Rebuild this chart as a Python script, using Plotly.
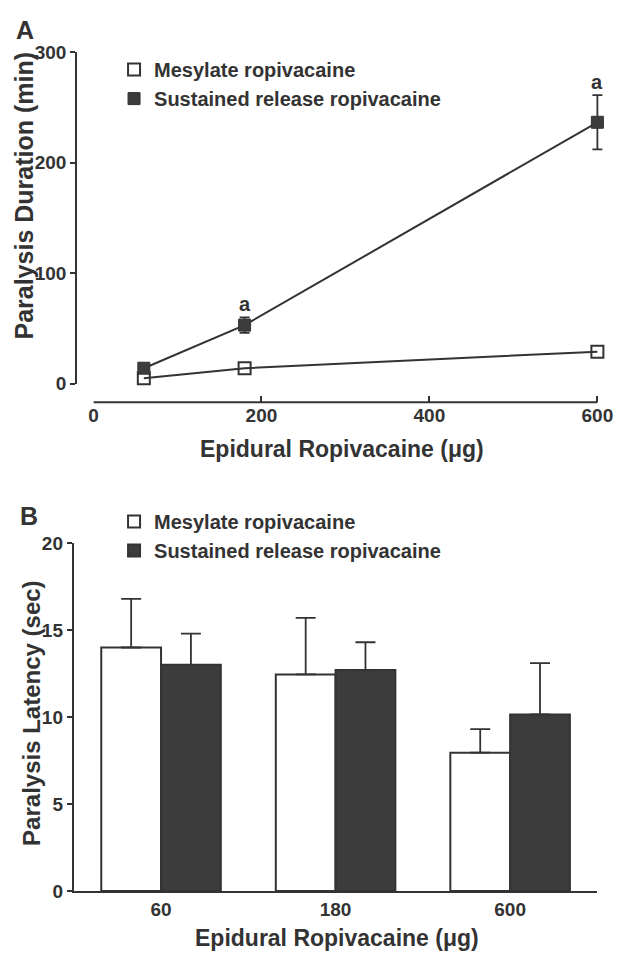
import plotly.graph_objects as go

W, H = 625, 966


def px(x):
    return x / W


def py(y):
    return 1 - y / H


# ---------------- data ----------------
doses_a = [60, 180, 600]
mesylate_a = [5, 14, 29]
sustained_a = [14, 53, 236.5]
sustained_a_err = [2, 7, 24.5]
sig_a = ["", "a", "a"]

doses_b = ["60", "180", "600"]
mesylate_b = [14.0, 12.45, 7.95]
mesylate_b_err = [2.8, 3.25, 1.35]
sustained_b = [13.0, 12.7, 10.15]
sustained_b_err = [1.8, 1.6, 2.95]

ticks_a_x = [0, 200, 400, 600]
ticks_a_y = [0, 100, 200, 300]
ticks_b_y = [0, 5, 10, 15, 20]

name_m = "Mesylate ropivacaine"
name_s = "Sustained release ropivacaine"

# ---------------- style ----------------
INK = "#333333"
DARK = "#3c3c3c"
FONT = "Liberation Sans, Arial, Helvetica, sans-serif"
TICKF = dict(family=FONT, size=19, color=INK, weight="bold")
LEGF = dict(family=FONT, size=20, color=INK, weight="bold")
TITF = dict(family=FONT, size=23, color=INK, weight="bold")

# panel A geometry (pixels): x=0 at 90, x=600 at 603; extra room so caps aren't clipped
AX0, AX600, AEXTRA = 90, 603, 10
a_xmax = 600 + AEXTRA * 600 / (AX600 - AX0)

fig = go.Figure()

# Panel A: connecting lines
for ys in (mesylate_a, sustained_a):
    fig.add_trace(go.Scatter(
        x=doses_a, y=ys, mode="lines", line=dict(color=INK, width=2),
        showlegend=False, hoverinfo="skip", xaxis="x", yaxis="y",
    ))

# Panel A: markers
fig.add_trace(go.Scatter(
    x=doses_a, y=mesylate_a, mode="markers", name=name_m,
    marker=dict(symbol="square-open", size=12, color=INK, line=dict(width=2, color=INK)),
    cliponaxis=False, legend="legend", xaxis="x", yaxis="y",
))
fig.add_trace(go.Scatter(
    x=doses_a, y=sustained_a, mode="markers", name=name_s,
    marker=dict(symbol="square", size=12, color=DARK, line=dict(width=1, color=INK)),
    error_y=dict(type="data", array=sustained_a_err, color=INK, thickness=1.8, width=5),
    cliponaxis=False, legend="legend", xaxis="x", yaxis="y",
))

for xv, yv, ev, s in zip(doses_a, sustained_a, sustained_a_err, sig_a):
    if s:
        fig.add_annotation(
            x=xv, y=yv + ev, xref="x", yref="y", text=s, showarrow=False,
            xanchor="center", yanchor="bottom", yshift=0,
            font=dict(family=FONT, size=20, color=INK, weight="bold"),
        )

# x-axis line of panel A, spanning 0..600 only
fig.add_shape(type="line", xref="x", yref="paper", x0=ticks_a_x[0], x1=ticks_a_x[-1],
              y0=py(401), y1=py(401), line=dict(color=INK, width=2), layer="above")

# Panel B: bars
fig.add_trace(go.Bar(
    x=doses_b, y=mesylate_b, name=name_m,
    marker=dict(color="white", line=dict(color=INK, width=2)),
    error_y=dict(type="data", symmetric=False, array=mesylate_b_err,
                 arrayminus=[0 for _ in mesylate_b_err], color=INK, thickness=1.8, width=10),
    legend="legend2", xaxis="x2", yaxis="y2",
))
fig.add_trace(go.Bar(
    x=doses_b, y=sustained_b, name=name_s,
    marker=dict(color=DARK, line=dict(color=INK, width=2)),
    error_y=dict(type="data", symmetric=False, array=sustained_b_err,
                 arrayminus=[0 for _ in sustained_b_err], color=INK, thickness=1.8, width=10),
    legend="legend2", xaxis="x2", yaxis="y2",
))

axis_common = dict(linecolor=INK, linewidth=2, showgrid=False, ticklabeloverflow="allow",
                   zeroline=False, tickcolor=INK, tickwidth=2, tickfont=TICKF, fixedrange=True)

fig.update_layout(
    width=W, height=H, margin=dict(l=0, r=0, t=0, b=0), autosize=False,
    paper_bgcolor="white", plot_bgcolor="white",
    barmode="group", bargap=0.315, bargroupgap=0,
    xaxis=dict(domain=[px(AX0), px(AX600 + AEXTRA)], range=[0, a_xmax], anchor="free",
               position=py(401), showline=False,
               ticks="inside", ticklen=6, tickvals=ticks_a_x, **axis_common),
    yaxis=dict(domain=[py(382), py(43)], range=[0, 300], anchor="free", position=px(72.5),
               showline=True, ticks="outside", ticklen=5, tickvals=ticks_a_y, **axis_common),
    xaxis2=dict(domain=[px(70), px(603)], type="category", range=[-0.5, 2.5], anchor="y2",
                showline=True, ticks="", categoryorder="array", categoryarray=doses_b,
                **axis_common),
    yaxis2=dict(domain=[py(900.5), py(545)], range=[0, 20], anchor="x2",
                showline=True, ticks="outside", ticklen=5, tickvals=ticks_b_y, **axis_common),
    legend=dict(x=px(111), y=py(41), xanchor="left", yanchor="top", font=LEGF,
                bgcolor="rgba(0,0,0,0)", tracegroupgap=0, itemclick=False, itemdoubleclick=False),
    legend2=dict(x=px(111), y=py(503), xanchor="left", yanchor="top", font=LEGF,
                 bgcolor="rgba(0,0,0,0)", tracegroupgap=0, itemclick=False, itemdoubleclick=False),
    showlegend=True,
)

# panel letters and axis titles
ann = dict(xref="paper", yref="paper", showarrow=False, xanchor="center", yanchor="middle")
fig.add_annotation(x=px(20), y=py(20), text="A",
                   font=dict(family=FONT, size=25, color=INK, weight="bold"), **ann)
fig.add_annotation(x=px(24), y=py(517), text="B",
                   font=dict(family=FONT, size=25, color=INK, weight="bold"), **ann)
fig.add_annotation(x=px(343), y=py(449), text="Epidural Ropivacaine (μg)", font=TITF, **ann)
fig.add_annotation(x=px(338), y=py(949), text="Epidural Ropivacaine (μg)", font=TITF, **ann)
fig.add_annotation(x=px(19), y=py(190), text="Paralysis Duration (min)", textangle=-90,
                   font=dict(family=FONT, size=25, color=INK, weight="bold"), **ann)
fig.add_annotation(x=px(27), y=py(719), text="Paralysis Latency (sec)", textangle=-90,
                   font=dict(family=FONT, size=24, color=INK, weight="bold"), **ann)

# remove the page's default 8px body margin so the figure sits at the window's corner
fig.write_html("out.html", config={"displayModeBar": False},
               post_script="document.body.style.margin='0';")
